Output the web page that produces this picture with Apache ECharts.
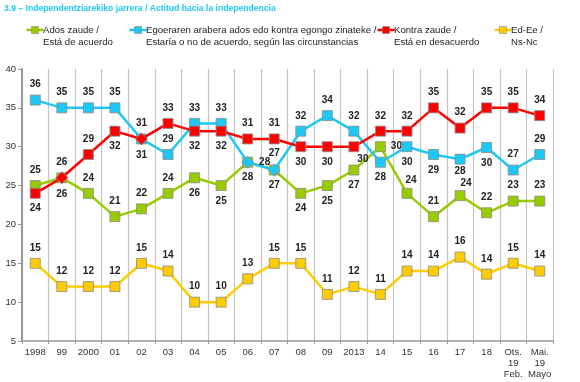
<!DOCTYPE html>
<html><head><meta charset="utf-8">
<script src="https://cdn.jsdelivr.net/npm/echarts@6/dist/echarts.min.js"></script>
<style>html,body{margin:0;padding:0;background:#fff}#c{width:580px;height:382px}</style>
</head><body><div id="c"></div>
<script>
const titleText = '3.9 – Independentziarekiko jarrera / Actitud hacia la independencia';
const categories = ['1998','99','2000','01','02','03','04','05','06','07','08','09','2013','14','15','16','17','18','Ots.\n19\nFeb.','Mai.\n19\nMayo'];
const seriesNames = ['Ados zaude /\nEstá de acuerdo','Egoeraren arabera ados edo kontra egongo zinateke /\nEstaría o no de acuerdo, según las circunstancias','Kontra zaude /\nEstá en desacuerdo','Ed-Ee /\nNs-Nc'];
const adosValues   = [25,26,24,21,22,24,26,25,28,27,24,25,27,30,24,21,23.7,21.5,23,23];
const egoeraValues = [36,35,35,35,31,29,33,33,28,27,32,34,32,28,30,29,28.4,29.9,27,29];
const kontraValues = [24,26,29,32,31,33,32,32,31,31,30,30,30,32,32,35,32.4,35,35,34];
const edeeValues   = [15,12,12,12,15,14,10,10,13,15,15,11,12,11,14,14,15.8,13.6,15,14];
const yTicks = {min:5,max:40,interval:5};

// label placements (styling, kept apart from the values)
const adosPos   = ['top','top','top','top','top','top','bottom','bottom','bottom','bottom','bottom','bottom','bottom','right','top','top','top','top','top','top'];
const egoeraPos = ['top','top','top','top','top','top','top','top','right','top','top','top','top','bottom','bottom','bottom','bottom','bottom','top','top'];
const kontraPos = ['bottom','bottom','top','bottom','bottom','top','bottom','bottom','top','top','bottom','bottom','bottom','top','top','top','top','top','top','top'];
const edeePos   = edeeValues.map(()=>'top');
const labelOffsets = {ados:{16:[6,3], 14:[4,2]}, egoera:{16:[0,-3]}, kontra:{12:[9,-3]}};
// marker shapes where lines overlap (as in the reference)
const egoeraSym = egoeraValues.map((v,i)=> (i===8||i===9) ? 'diamond' : 'rect');
const kontraSym = kontraValues.map((v,i)=> (i===1||i===4) ? 'diamond' : 'rect');
const plainSym  = adosValues.map(()=>'rect');

const colors = ['#99cc00','#1ec8f5','#ff0000','#ffcc00'];
const FONT = 'Liberation Sans, Arial, sans-serif';
const chart = echarts.init(document.getElementById('c'));

function mk(name, vals, pos, sym, offs, color, z){
  return {
    name, type:'line',
    data: vals.map((v,i)=>({value:v, symbol:sym[i], symbolSize: sym[i]==='diamond'?12:10,
      label:{position:pos[i], offset: offs[i] || [0,0]}})),
    symbol:'rect', symbolSize:10, z,
    lineStyle:{color, width:2.5},
    itemStyle:{color, borderColor:'#8a8a8a', borderWidth:0.8},
    label:{show:true, formatter:p=>Math.round(p.value), fontSize:10, fontWeight:'bold', color:'#222', fontFamily:FONT, distance:5},
    emphasis:{disabled:true}, animation:false
  };
}
const legendLefts = [24,127,375,492];
const legendGraphics = seriesNames.map((n,i)=>({
  type:'group', left:legendLefts[i], top:25,
  children:[
    {type:'line', shape:{x1:0,y1:5,x2:17,y2:5}, style:{stroke:colors[i], lineWidth:2.5}},
    {type:'rect', shape:{x:5,y:1.5,width:7,height:7}, style:{fill:colors[i], stroke:'#8a8a8a', lineWidth:0.6}},
    {type:'text', x:16.5, y:0, style:{text:n, font:'9.6px '+FONT, fill:'#222', lineHeight:11.5}}
  ]
}));

chart.setOption({
  animation:false,
  color: colors,
  title:{text:titleText, left:4, top:4, padding:0, textStyle:{fontSize:8.6, fontWeight:'bold', color:'#1ec8f5', fontFamily:FONT}},
  graphic: legendGraphics,
  grid:{left:22, right:27, top:69, bottom:41},
  xAxis:{type:'category', data:categories, boundaryGap:true,
    axisLine:{lineStyle:{color:'#999', width:1.5}},
    axisTick:{show:true, length:3, lineStyle:{color:'#999'}},
    axisLabel:{fontSize:9.5, color:'#333', fontFamily:FONT, margin:6, lineHeight:11, interval:0},
    splitLine:{show:true, lineStyle:{color:'#c4c4c4', width:1.2}}},
  yAxis:{type:'value', min:yTicks.min, max:yTicks.max, interval:yTicks.interval,
    axisLine:{show:true, lineStyle:{color:'#999', width:2}},
    axisTick:{show:true, length:4, lineStyle:{color:'#999'}},
    axisLabel:{fontSize:9.5, color:'#333', fontFamily:FONT, margin:6},
    splitLine:{show:false}},
  series:[
    mk(seriesNames[0], adosValues, adosPos, plainSym, labelOffsets.ados, colors[0], 2),
    mk(seriesNames[1], egoeraValues, egoeraPos, egoeraSym, labelOffsets.egoera, colors[1], 3),
    mk(seriesNames[2], kontraValues, kontraPos, kontraSym, labelOffsets.kontra, colors[2], 4),
    mk(seriesNames[3], edeeValues, edeePos, plainSym, {}, colors[3], 5)
  ]
});
</script></body></html>
